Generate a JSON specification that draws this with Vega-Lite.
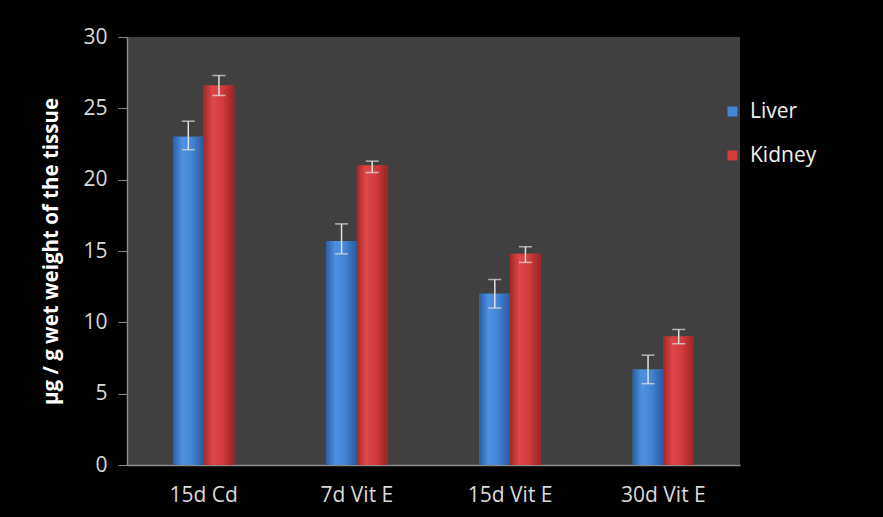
{
  "$schema": "https://vega.github.io/schema/vega-lite/v6.json",
  "autosize": "none",
  "width": 613,
  "height": 428,
  "padding": {"left": 127, "top": 37, "right": 143, "bottom": 52},
  "background": "#000000",
  "config": {
    "view": {"fill": "#404040", "stroke": null},
    "font": "Open Sans"
  },
  "data": {
    "values": [
      {"group": "15d Cd", "tissue": "Liver", "value": 23.0, "lo": 22.1, "hi": 24.1},
      {"group": "15d Cd", "tissue": "Kidney", "value": 26.6, "lo": 25.9, "hi": 27.3},
      {"group": "7d Vit E", "tissue": "Liver", "value": 15.7, "lo": 14.8, "hi": 16.9},
      {"group": "7d Vit E", "tissue": "Kidney", "value": 21.0, "lo": 20.5, "hi": 21.3},
      {"group": "15d Vit E", "tissue": "Liver", "value": 12.0, "lo": 11.0, "hi": 13.0},
      {"group": "15d Vit E", "tissue": "Kidney", "value": 14.8, "lo": 14.2, "hi": 15.3},
      {"group": "30d Vit E", "tissue": "Liver", "value": 6.7, "lo": 5.7, "hi": 7.7},
      {"group": "30d Vit E", "tissue": "Kidney", "value": 9.0, "lo": 8.5, "hi": 9.5}
    ]
  },
  "encoding": {
    "x": {
      "field": "group", "type": "nominal", "sort": null,
      "scale": {"paddingInner": 0.6, "paddingOuter": 0.3},
      "axis": {
        "title": null, "labelAngle": 0, "labelFontSize": 21, "labelColor": "#d9d9d9",
        "ticks": false, "labelPadding": 19, "domainColor": "#8c8c8c", "domainWidth": 1.5
      }
    },
    "xOffset": {
      "field": "tissue", "type": "nominal", "sort": ["Liver", "Kidney"],
      "scale": {"paddingInner": 0, "paddingOuter": 0}
    }
  },
  "layer": [
    {
      "mark": {"type": "bar"},
      "encoding": {
        "y": {
          "field": "value", "type": "quantitative",
          "scale": {"domain": [0, 30]},
          "axis": {
            "values": [0, 5, 10, 15, 20, 25, 30],
            "title": "µg / g wet weight of the tissue",
            "titleFontSize": 20.5, "titleFontWeight": "bold", "titleColor": "#ffffff",
            "titlePadding": 21,
            "labelFontSize": 21, "labelColor": "#d9d9d9", "labelPadding": 11,
            "tickSize": 9, "tickColor": "#8c8c8c", "domainColor": "#8c8c8c",
            "domainWidth": 1.5, "grid": false
          }
        },
        "color": {
          "field": "tissue", "type": "nominal", "sort": ["Liver", "Kidney"],
          "scale": {"domain": ["Liver", "Kidney"], "range": ["#4585d6", "#d43c3c"]},
          "legend": {
            "title": null, "orient": "none", "legendX": 595, "legendY": 64,
            "symbolType": "square", "symbolSize": 100, "symbolStrokeWidth": 0,
            "labelFontSize": 21, "labelColor": "#f0f0f0", "labelOffset": 7,
            "rowPadding": 22, "padding": 0
          }
        }
      }
    },
    {
      "transform": [{"filter": "datum.tissue === 'Liver'"}],
      "mark": {
        "type": "bar",
        "fill": {
          "gradient": "linear", "x1": 0, "y1": 0, "x2": 1, "y2": 0,
          "stops": [
            {"offset": 0, "color": "#2b5ea6"},
            {"offset": 0.3, "color": "#4e91e2"},
            {"offset": 0.6, "color": "#4585d6"},
            {"offset": 1, "color": "#2a5a9e"}
          ]
        }
      },
      "encoding": {"y": {"field": "value", "type": "quantitative"}}
    },
    {
      "transform": [{"filter": "datum.tissue === 'Kidney'"}],
      "mark": {
        "type": "bar",
        "fill": {
          "gradient": "linear", "x1": 0, "y1": 0, "x2": 1, "y2": 0,
          "stops": [
            {"offset": 0, "color": "#a32828"},
            {"offset": 0.3, "color": "#de4848"},
            {"offset": 0.6, "color": "#d43c3c"},
            {"offset": 1, "color": "#992424"}
          ]
        }
      },
      "encoding": {"y": {"field": "value", "type": "quantitative"}}
    },
    {
      "mark": {"type": "rule", "color": "#e0e0e0", "strokeWidth": 1.5},
      "encoding": {
        "y": {"field": "lo", "type": "quantitative"},
        "y2": {"field": "hi"}
      }
    },
    {
      "mark": {"type": "tick", "color": "#e0e0e0", "thickness": 1.5, "size": 13},
      "encoding": {"y": {"field": "lo", "type": "quantitative"}}
    },
    {
      "mark": {"type": "tick", "color": "#e0e0e0", "thickness": 1.5, "size": 13},
      "encoding": {"y": {"field": "hi", "type": "quantitative"}}
    }
  ]
}
